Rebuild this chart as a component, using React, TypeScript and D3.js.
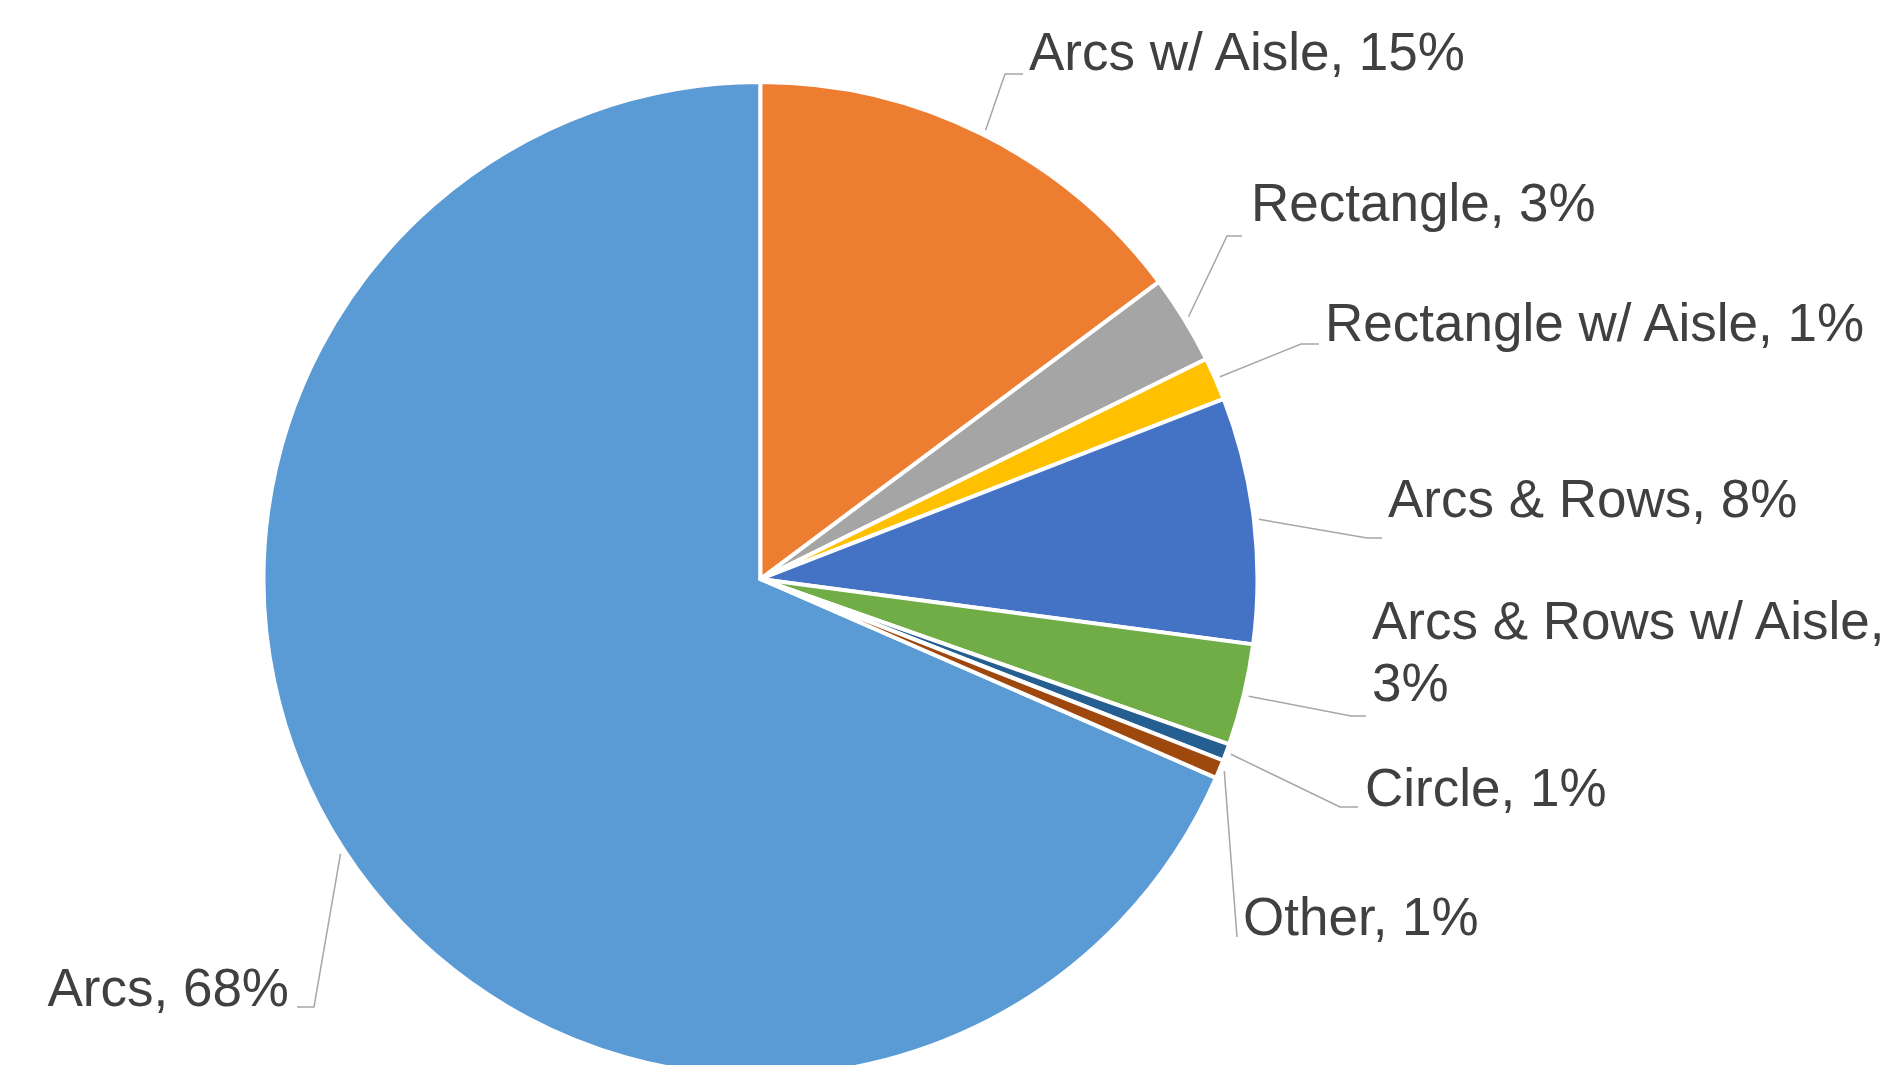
import React from "react";
import * as d3 from "d3";

const categories = [
  "Arcs",
  "Arcs w/ Aisle",
  "Rectangle",
  "Rectangle w/ Aisle",
  "Arcs & Rows",
  "Arcs & Rows w/ Aisle",
  "Circle",
  "Other",
];
const values = [68.45, 14.8, 2.9, 1.4, 8.0, 3.3, 0.55, 0.6];
const colors = ["#5B9BD5", "#ED7D31", "#A5A5A5", "#FFC000", "#4472C4", "#70AD47", "#255E91", "#9E480E"];

// label layout: text x, baselines, elbow point, end of horizontal leader, anchor
const labelLayout = [
  { tx: 289, lines: [1006], ex: 314, ey: 1007, hx: 297, anchor: "end" },
  { tx: 1029, lines: [70], ex: 1005, ey: 74, hx: 1023, anchor: "start" },
  { tx: 1251, lines: [221], ex: 1227, ey: 236, hx: 1242, anchor: "start" },
  { tx: 1325, lines: [341], ex: 1301, ey: 344, hx: 1319, anchor: "start" },
  { tx: 1388, lines: [517], ex: 1367, ey: 538, hx: 1382, anchor: "start" },
  { tx: 1372, lines: [639, 701], ex: 1351, ey: 716, hx: 1366, anchor: "start" },
  { tx: 1365, lines: [806], ex: 1340, ey: 807, hx: 1358, anchor: "start" },
  { tx: 1243, lines: [935], ex: 1237, ey: 937, hx: 1237, anchor: "start" },
];

const W = 1880;
const H = 1065;
const cx = 760.5;
const cy = 579;
const R = 497;

export default function App() {
  const total = d3.sum(values);
  const start = -(values[0] / total) * 2 * Math.PI;
  const pie = d3
    .pie<number>()
    .sort(null)
    .value((d) => d)
    .startAngle(start)
    .endAngle(start + 2 * Math.PI);
  const arcs = pie(values);
  const arcGen = d3.arc<d3.PieArcDatum<number>>().innerRadius(0).outerRadius(R);
  const edgeArc = d3.arc<d3.PieArcDatum<number>>().innerRadius(R + 5).outerRadius(R + 5);

  return (
    <svg
      width={W}
      height={H}
      style={{ position: "absolute", left: 0, top: 0, background: "#fff" }}
    >
      <rect width={W} height={H} fill="#fff" />
      <g transform={`translate(${cx},${cy})`}>
        {arcs.map((a, i) => (
          <path key={i} d={arcGen(a) || ""} fill={colors[i]} stroke="#fff" strokeWidth={4} strokeLinejoin="round" />
        ))}
      </g>
      {arcs.map((a, i) => {
        const L = labelLayout[i];
        const [px, py] = edgeArc.centroid(a);
        const pts = [
          [cx + px, cy + py],
          [L.ex, L.ey],
          [L.hx, L.ey],
        ];
        const pct = Math.round((values[i] / total) * 100);
        const full = `${categories[i]}, ${pct}%`;
        const textLines = L.lines.length > 1 ? [`${categories[i]},`, `${pct}%`] : [full];
        return (
          <g key={i}>
            <polyline
              points={pts.map((p) => p.join(",")).join(" ")}
              fill="none"
              stroke="#A6A6A6"
              strokeWidth={1.5}
            />
            {textLines.map((t, j) => (
              <text
                key={j}
                x={L.tx}
                y={L.lines[j]}
                textAnchor={L.anchor as any}
                fontFamily="'Liberation Sans', Arial, Helvetica, sans-serif"
                fontSize={53}
                fill="#404040"
              >
                {t}
              </text>
            ))}
          </g>
        );
      })}
    </svg>
  );
}
